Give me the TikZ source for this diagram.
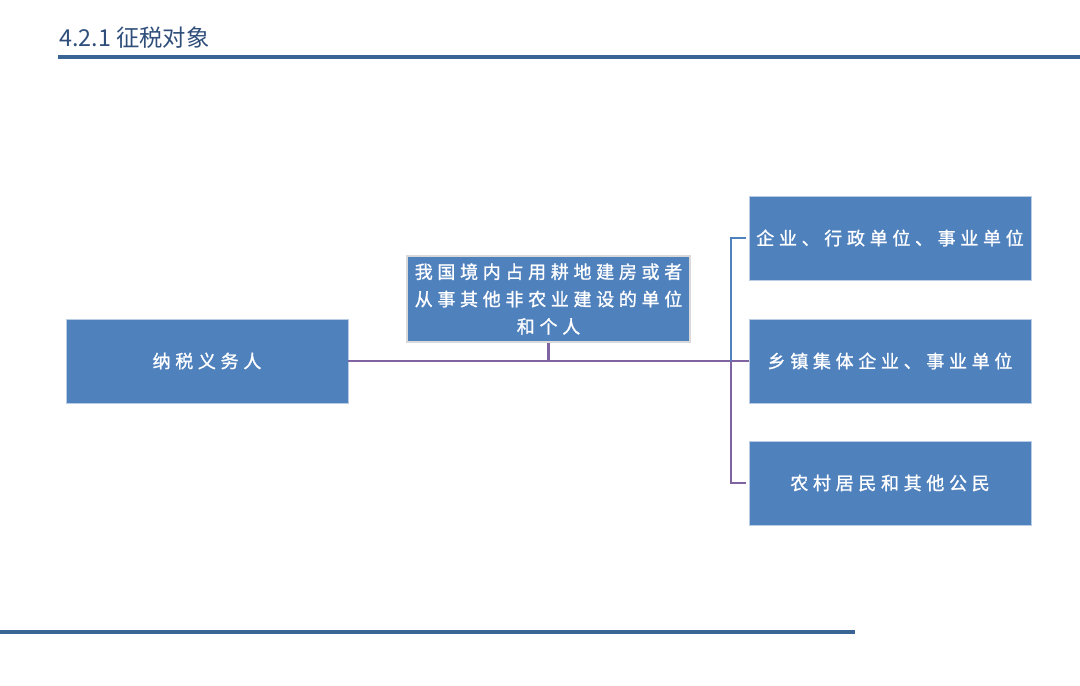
\documentclass[tikz,border=0pt]{standalone}
\usepackage{fontspec}
\setmainfont{Noto Sans CJK SC}
\newfontfamily\titlefont{Noto Sans CJK SC}
\newfontfamily\boxfont[LetterSpace=26,FakeBold=1.2]{Noto Sans CJK SC}
\definecolor{boxblue}{HTML}{4F81BD}
\definecolor{rulblue}{HTML}{3A6496}
\definecolor{titleblue}{HTML}{2F4E7A}
\definecolor{linkpurple}{HTML}{8064A2}
\definecolor{edgeblue}{HTML}{B9CDE5}
\begin{document}
\begin{tikzpicture}[x=0.75pt,y=-0.75pt,
  boxnode/.style={draw=edgeblue,line width=0.6pt,fill=boxblue,text=white,
    minimum width=282*0.75pt,minimum height=84*0.75pt,inner sep=0pt,
    font=\boxfont\fontsize{13.5}{20.5}\selectfont,align=center},
  midnode/.style={boxnode,draw=black!15,line width=1.5pt},
  purpleline/.style={draw=linkpurple,line width=1.6pt},
  blueline/.style={draw=boxblue,line width=1.6pt},
  rulel/.style={draw=rulblue,line width=2.4pt}]
\useasboundingbox (0,0) rectangle (1080,685);
% title and rules
\node[anchor=base west,inner sep=0pt,text=titleblue,font=\titlefont\fontsize{17.5}{20}\selectfont] (title) at (59,47) {4.2.1 征税对象};
\coordinate (t1) at (58,57);
\coordinate (t2) at (1080,57);
\draw[rulel] (t1) -- (t2);
\coordinate (b1) at (0,632);
\coordinate (b2) at (855,632);
\draw[rulel] (b1) -- (b2);
% boxes
\node[boxnode] (left) at (207,361) {纳税义务人};
\node[midnode,minimum width=283*0.75pt,minimum height=86*0.75pt] (mid) at (548.5,299) {我国境内占用耕地建房或者\\从事其他非农业建设的单位\\和个人};
\node[boxnode] (r1) at (890,238) {企业、行政单位、事业单位};
\node[boxnode] (r2) at (890,361) {乡镇集体企业、事业单位};
\node[boxnode] (r3) at (890,483) {农村居民和其他公民};
% connectors
\coordinate (jx) at (731,361);
\coordinate (mj) at (mid.south |- jx);
\draw[purpleline] (left.east) -- (r2.west);
\draw[purpleline] (mid.south) -- (mj);
\draw[blueline] ([xshift=-3*0.75pt]r1.west) -| (jx);
\draw[purpleline] ([xshift=-3*0.75pt]r3.west) -| (jx);
\end{tikzpicture}
\end{document}
